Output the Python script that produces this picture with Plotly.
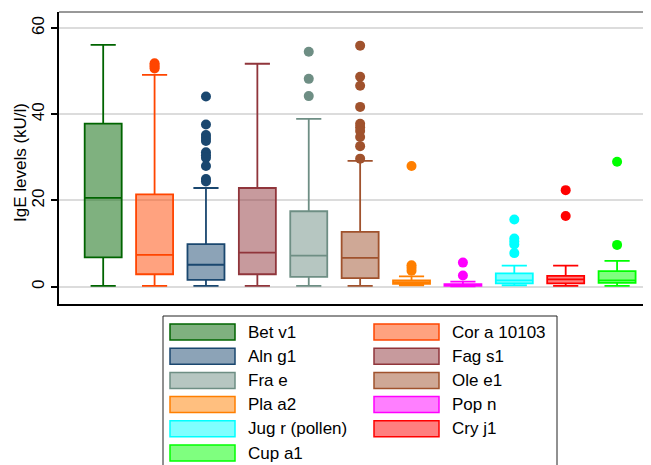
import plotly.graph_objects as go

# ---------------- data ----------------
allergens = ["Bet v1", "Cor a 10103", "Aln g1", "Fag s1", "Fra e", "Ole e1",
             "Pla a2", "Pop n", "Jug r (pollen)", "Cry j1", "Cup a1"]
lowerfence = [0.2, 0.2, 0.2, 0.2, 0.2, 0.2, 0.3, 0.1, 0.3, 0.2, 0.2]
q1 =         [6.8, 2.9, 1.6, 2.9, 2.3, 2.0, 0.7, 0.2, 0.8, 0.8, 0.9]
median =     [20.6, 7.4, 5.1, 7.9, 7.2, 6.7, 1.0, 0.35, 1.5, 1.7, 1.5]
q3 =         [37.8, 21.4, 9.9, 22.9, 17.5, 12.7, 1.5, 0.6, 3.1, 2.5, 3.6]
upperfence = [56.1, 49.1, 22.9, 51.7, 38.9, 29.2, 2.4, 1.2, 4.9, 4.9, 6.0]
outliers = [
    [],
    [51.8, 51.4, 51.0, 50.6],
    [44.1, 37.6, 35.2, 34.5, 33.8, 31.2, 30.5, 29.9, 28.0, 25.0, 24.4],
    [],
    [54.5, 48.2, 44.2],
    [55.9, 48.7, 46.6, 41.7, 37.8, 37.0, 36.1, 34.7, 32.6, 29.7],
    [28.0, 5.0, 4.4, 3.7],
    [5.6, 2.6],
    [15.6, 11.2, 10.5, 9.8, 7.8],
    [22.4, 16.4],
    [29.0, 9.7],
]
y_ticks = [0, 20, 40, 60]
y_title = "IgE levels (kU/l)"

# ---------------- styles ----------------
line_colors = ["#006400", "#ff4500", "#1a476f", "#90353b", "#6e8e84", "#a0522d",
               "#ff7f00", "#ff00ff", "#00ffff", "#ff0000", "#00ff00"]


def fill_of(hex_col, a=0.5):
    h = hex_col.lstrip("#")
    r, g, b = int(h[0:2], 16), int(h[2:4], 16), int(h[4:6], 16)
    return f"rgba({r},{g},{b},{a})"


FONT = "Arial, 'Liberation Sans', sans-serif"
OFF = 8  # default page body margin
W, H = 651 - OFF, 465 - OFF
ML, MR, MT = 59 - OFF, 0, 12 - OFF
MB = H - (304 - OFF)
PW, PH = W - ML - MR, H - MT - MB


def px_x(px):
    return (px - OFF - ML) / PW


def px_y(py):
    return (H - MB - (py - OFF)) / PH


fig = go.Figure()

for i, name in enumerate(allergens):
    fig.add_trace(go.Box(
        x=[i], q1=[q1[i]], median=[median[i]], q3=[q3[i]],
        lowerfence=[lowerfence[i]], upperfence=[upperfence[i]],
        name=name, width=0.72, whiskerwidth=0.68,
        line=dict(color=line_colors[i], width=1.8),
        fillcolor=fill_of(line_colors[i]),
        boxpoints=False, showlegend=False, hoverinfo="skip",
    ))
    if outliers[i]:
        fig.add_trace(go.Scatter(
            x=[i] * len(outliers[i]), y=outliers[i], mode="markers",
            marker=dict(color=line_colors[i], size=10, line=dict(width=0)),
            showlegend=False, hoverinfo="skip", cliponaxis=False,
        ))

# ---------------- manual legend ----------------
shapes = []
annotations = []
shapes.append(dict(type="rect", xref="paper", yref="paper",
                   x0=px_x(163), x1=px_x(557), y0=px_y(490), y1=px_y(316),
                   line=dict(color="#222222", width=1), fillcolor="white", layer="below"))
col_x = [170, 374]
row_top0, row_step = 324, 24.2
sw_w, sw_h = 65, 16
for i, name in enumerate(allergens):
    r, c = divmod(i, 2)
    x0 = col_x[c]
    y0 = row_top0 + r * row_step
    shapes.append(dict(type="rect", xref="paper", yref="paper",
                       x0=px_x(x0), x1=px_x(x0 + sw_w), y0=px_y(y0 + sw_h), y1=px_y(y0),
                       line=dict(color=line_colors[i], width=1.5),
                       fillcolor=fill_of(line_colors[i])))
    annotations.append(dict(xref="paper", yref="paper", x=px_x(x0 + sw_w + 11),
                            y=px_y(y0 + sw_h / 2), text=name, showarrow=False,
                            xanchor="left", yanchor="middle",
                            font=dict(family=FONT, size=17, color="black")))

# y-axis title
annotations.append(dict(xref="paper", yref="paper", x=px_x(20), y=px_y(163),
                        text=y_title, textangle=-90, showarrow=False,
                        xanchor="center", yanchor="middle",
                        font=dict(family=FONT, size=17, color="black")))

# top border of the plot region
shapes.append(dict(type="line", xref="paper", yref="paper", x0=0, x1=1, y0=1, y1=1,
                   line=dict(color="#333333", width=1)))

fig.update_layout(
    width=W, height=H,
    margin=dict(l=ML, r=MR, t=MT, b=MB, pad=0, autoexpand=False),
    paper_bgcolor="white", plot_bgcolor="white",
    boxmode="overlay",
    font=dict(family=FONT, size=17, color="black"),
    shapes=shapes, annotations=annotations,
    showlegend=False,
)
fig.update_xaxes(range=[-0.86, 10.66], showticklabels=False, ticks="",
                 showgrid=False, zeroline=False, automargin=False,
                 showline=True, linecolor="black", linewidth=2)
fig.update_yaxes(range=[-4.0, 63.7], tickvals=y_ticks, ticktext=[str(v) for v in y_ticks],
                 tickangle=-90, ticks="outside", ticklen=6, tickwidth=1.5, tickcolor="black",
                 tickfont=dict(family=FONT, size=17, color="black"),
                 showgrid=True, gridcolor="#dcdcdc", gridwidth=1.5, zeroline=False,
                 showline=True, linecolor="black", linewidth=2, automargin=False)

fig.write_html("out.html")
